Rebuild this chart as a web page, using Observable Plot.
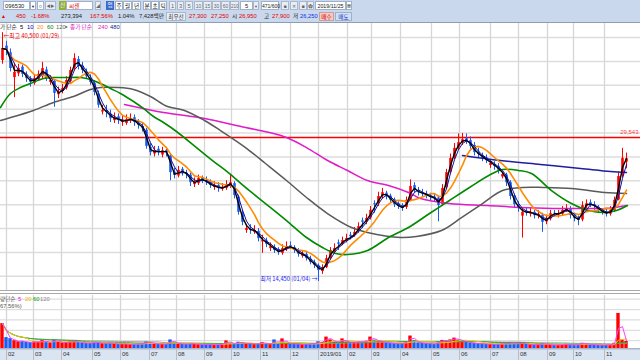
<!DOCTYPE html>
<html><head><meta charset="utf-8">
<script src="https://cdn.jsdelivr.net/npm/d3@7"></script>
<script src="https://cdn.jsdelivr.net/npm/@observablehq/plot@0.6"></script>
<style>
body{margin:0;width:640px;height:360px;overflow:hidden;background:#fff;position:relative;font-family:"Liberation Sans","Noto Sans CJK KR",sans-serif}
.t{position:absolute;font-size:5.8px;line-height:9px;height:9px;white-space:nowrap;color:#222;box-sizing:border-box;font-family:"Liberation Sans","Noto Sans CJK KR",sans-serif}
.k{font-family:"Noto Sans CJK KR",sans-serif;font-size:5.6px}
.bx{background:#fff;border:1px solid #9fb1c9;text-align:center}
.gb{background:#e9eef6;border:1px solid #aab8cc;text-align:center;color:#666}
.pane{position:absolute;left:0}
.lg{position:absolute;font-size:5.8px;line-height:8px;white-space:nowrap;font-family:"Liberation Sans","Noto Sans CJK KR",sans-serif}
.lg span{position:absolute;top:0}
</style></head><body>
<div style="position:absolute;left:0;top:0;width:640px;height:22px;background:#c9d8ec;border-bottom:1px solid #8d9db4"></div>
<div class="t bx" style="left:3px;top:1px;width:27px;text-align:left;padding-left:1px">096530</div>
<div class="t bx" style="left:30px;top:1px;width:6px;font-size:4px">▼</div>
<div class="t bx" style="left:37px;top:1px;width:7px">○</div>
<div class="t gb" style="left:45px;top:1px;width:11px;font-size:4px">◀▶</div>
<div class="t k" style="left:59px;top:1px;width:7px;background:#8fae3a;color:#fff;text-align:center">신</div>
<div class="t bx k" style="left:66px;top:1px;width:27px;text-align:left;color:#e01010;padding-left:2px">씨젠</div>
<div class="t gb" style="left:95px;top:1px;width:6px;font-size:4px">◢</div>
<div class="t k" style="left:106px;top:1px;width:8px;background:#3b6ccb;color:#fff;text-align:center">업</div>
<div class="t bx k" style="left:115px;top:1px;width:8px">주</div>
<div class="t bx k" style="left:123px;top:1px;width:9px">월</div>
<div class="t bx k" style="left:132px;top:1px;width:9px">년</div>
<div class="t bx k" style="left:143px;top:1px;width:8px">분</div>
<div class="t bx k" style="left:151px;top:1px;width:8px">초</div>
<div class="t bx k" style="left:159px;top:1px;width:8px">틱</div>
<div class="t gb" style="left:169px;top:1px;width:7px">1</div>
<div class="t gb" style="left:177px;top:1px;width:7px">3</div>
<div class="t gb" style="left:185px;top:1px;width:8px">5</div>
<div class="t gb" style="left:194px;top:1px;width:9px;font-size:5px">10</div>
<div class="t gb" style="left:203px;top:1px;width:9px;font-size:5px">15</div>
<div class="t gb" style="left:212px;top:1px;width:9px;font-size:5px">30</div>
<div class="t gb" style="left:221px;top:1px;width:9px;font-size:5px">60</div>
<div class="t gb" style="left:230px;top:1px;width:9px;font-size:4.5px">210</div>
<div class="t bx" style="left:240px;top:1px;width:13px">5</div>
<div class="t gb" style="left:253px;top:1px;width:6px;font-size:4px">▼</div>
<div class="t bx" style="left:261px;top:1px;width:18px;font-size:5px">471/600</div>
<div class="t gb" style="left:281px;top:1px;width:8px;font-size:5px">■</div>
<div class="t gb" style="left:290px;top:1px;width:8px;font-size:5px">✕</div>
<div class="t gb" style="left:299px;top:1px;width:8px;font-size:5px">■</div>
<div class="t gb" style="left:307px;top:1px;width:7px;font-size:5px">✿</div>
<div class="t bx" style="left:315px;top:1px;width:31px;font-size:5.3px">2019/11/25</div>
<div class="t bx" style="left:346px;top:1px;width:6px;font-size:4px">▦</div>

<div class="t" style="left:1px;top:12px;color:#e00000;font-size:5px">▲</div>
<div class="t" style="left:16px;top:12px;color:#e00000">450</div>
<div class="t" style="left:31px;top:12px;color:#e00000">-1.68%</div>
<div class="t" style="left:61px;top:12px">273,394</div>
<div class="t" style="left:90px;top:12px;color:#e00000">167.56%</div>
<div class="t" style="left:118px;top:12px">1.04%</div>
<div class="t" style="left:139px;top:12px">7,428<span class="k">백만</span></div>
<div class="t gb k" style="left:166px;top:12px;width:20px;color:#333">최우선</div>
<div class="t" style="left:189px;top:12px;color:#e00000">27,300</div>
<div class="t" style="left:211px;top:12px;color:#e00000">27,250</div>
<div class="t k" style="left:232px;top:12px">시</div>
<div class="t" style="left:239px;top:12px;color:#e00000">26,950</div>
<div class="t k" style="left:264px;top:12px">고</div>
<div class="t" style="left:272px;top:12px;color:#e00000">27,900</div>
<div class="t k" style="left:293px;top:12px">저</div>
<div class="t" style="left:300px;top:12px;color:#1030e0">26,250</div>
<div class="t k" style="left:319px;top:12px;width:15px;background:#f5c8c2;border:1px solid #c9a0a0;color:#d00000;text-align:center">매수</div>
<div class="t k" style="left:335px;top:12px;width:17px;background:#cfe0f5;border:1px solid #9fb1c9;color:#1030c0;text-align:center">매도</div>

<div id="main" class="pane" style="top:23px"></div>
<div class="pane" style="top:290px;width:640px;height:1px;background:#a9a9a9"></div>
<div class="pane" style="top:293px;width:640px;height:1px;background:#a9a9a9"></div>
<div id="vol" class="pane" style="top:295px"></div>
<div id="axis" class="pane" style="top:348px"></div>

<div class="lg" style="left:0;top:23px;width:130px;height:8px">
<span style="left:0;color:#333" class="k">가 단순</span>
<span style="left:20px;color:#000">5</span>
<span style="left:27px;color:#0000c8">10</span>
<span style="left:37px;color:#ff8c00">20</span>
<span style="left:47px;color:#008000">60</span>
<span style="left:56px;color:#666">120</span>
<span style="left:65px;color:#777;font-size:4px">■</span>
<span style="left:70px;color:#e020c0" class="k">종가 단순</span>
<span style="left:98px;color:#e020c0">240</span>
<span style="left:110px;color:#202090">480</span>
</div>
<div class="lg" style="left:0;top:295px;width:60px;height:8px">
<span style="left:0;color:#666" class="k">량단순</span>
<span style="left:18px;color:#ff00ff">5</span>
<span style="left:25px;color:#e8b800">20</span>
<span style="left:33px;color:#00a000">60</span>
<span style="left:40px;color:#888">120</span>
</div>
<div class="lg" style="left:0;top:302px;color:#555">67.56%)</div>

<script>
// ---- price data (thousand won), one candle per ~3 trading days ----
const closes = [38.85,38.65,36.75,36.35,36.75,36.15,35.70,35.30,35.70,36.15,
36.75,35.70,35.50,34.15,34.25,34.65,35.50,36.55,37.80,36.95,
36.55,35.90,35.30,34.25,32.90,32.35,32.15,31.50,31.60,31.30,
31.20,31.40,31.50,31.10,30.80,30.45,28.60,27.95,28.15,27.95,
28.15,27.95,25.85,25.55,26.10,25.85,25.65,24.80,24.80,25.25,
25.05,24.80,24.50,24.40,24.20,24.30,24.60,24.80,23.45,21.70,
20.65,20.00,19.80,19.80,18.95,18.75,18.35,18.10,17.70,17.50,
17.90,18.10,18.10,17.70,17.30,17.30,16.85,16.45,16.15,15.60,
15.80,16.85,17.70,17.90,18.35,18.75,18.95,19.15,19.60,20.20,
20.65,21.05,21.90,22.50,23.35,23.75,23.35,22.95,22.50,22.30,
22.10,22.95,24.40,24.00,23.75,23.65,23.45,23.25,23.15,22.40,
24.20,25.85,27.35,28.40,29.00,29.30,29.20,28.60,27.95,27.75,
27.35,27.10,26.80,26.50,26.10,25.65,24.80,23.35,22.50,22.10,
21.70,21.70,21.70,21.35,21.45,20.65,21.05,21.55,21.55,21.55,
21.90,22.10,21.35,21.05,20.85,22.40,22.60,22.50,22.30,21.90,
21.70,21.55,21.90,22.95,25.45,27.35,27.30];
const opens = [37.60,39.10,38.40,35.80,36.20,36.90,36.00,35.60,35.20,35.60,
35.90,36.60,35.30,35.40,34.00,34.40,34.70,35.40,36.80,37.70,
37.00,36.40,35.70,35.20,34.10,32.20,32.30,32.00,31.30,31.70,
31.10,31.00,31.30,31.60,31.00,30.70,30.30,28.50,27.80,28.30,
27.70,28.20,27.60,25.90,25.50,26.20,25.80,25.60,24.60,24.70,
25.30,25.00,24.90,24.30,24.50,24.10,24.20,24.40,24.70,23.30,
21.60,19.80,19.90,19.60,19.70,18.60,18.70,17.90,18.00,17.80,
17.40,17.80,18.20,18.00,17.60,17.10,17.30,16.80,16.40,16.10,
15.50,15.90,16.90,17.60,18.50,18.40,18.80,19.30,19.30,19.70,
20.80,20.70,21.10,22.60,22.60,23.40,23.70,23.40,23.00,22.60,
22.40,22.20,22.90,24.50,24.00,23.70,23.60,23.40,23.30,23.20,
22.50,24.30,25.90,27.40,28.50,29.00,29.40,29.20,28.70,28.00,
27.60,27.40,26.60,26.70,26.50,25.40,25.60,24.80,23.40,22.50,
21.30,21.80,21.50,21.70,21.30,21.40,20.70,21.00,21.60,21.40,
21.50,21.90,22.10,21.40,21.00,20.90,22.30,22.70,22.50,22.20,
21.90,21.70,21.50,21.90,23.00,25.50,26.95];
const highs = [40.50,39.60,38.80,37.30,37.20,37.10,36.40,35.90,36.10,36.50,
37.40,36.90,36.00,35.60,34.80,35.10,35.90,36.90,38.30,38.00,
37.40,36.70,36.10,35.50,34.40,32.90,32.90,32.40,32.10,32.00,
31.80,31.90,32.00,31.90,31.40,31.10,30.50,28.90,28.60,28.60,
28.50,28.50,27.80,26.30,26.50,26.40,26.10,25.80,25.30,25.60,
25.50,25.40,25.10,24.90,24.80,24.70,25.00,25.60,24.90,23.50,
21.90,20.40,20.40,20.30,20.00,19.30,19.00,18.50,18.30,18.00,
18.30,18.60,18.60,18.20,17.90,17.70,17.50,17.10,16.70,16.30,
16.20,17.20,18.00,18.40,18.80,19.10,19.40,19.60,20.10,20.60,
21.10,21.50,22.30,22.90,23.80,24.20,23.90,23.60,23.20,22.80,
22.60,23.30,25.10,24.80,24.30,24.10,23.90,23.70,23.60,23.40,
24.60,26.20,27.80,28.90,29.90,29.95,29.90,29.60,29.00,28.40,
27.90,27.70,27.20,27.00,26.80,25.90,25.80,25.00,23.60,22.80,
22.20,22.20,22.10,21.90,21.90,21.60,21.40,21.90,21.90,21.90,
22.30,22.50,22.30,21.60,21.30,22.80,23.00,23.00,22.80,22.40,
22.10,22.00,22.30,23.30,25.90,28.40,27.90];
const lows = [37.20,38.10,36.40,33.70,35.90,35.80,35.30,34.80,35.00,35.40,
35.60,35.40,35.00,32.70,33.60,34.10,34.50,35.20,36.50,36.60,
36.20,35.60,35.00,33.90,32.60,31.90,31.60,31.10,31.00,30.90,
30.70,30.80,31.00,30.70,30.40,30.10,28.30,27.60,27.50,27.60,
27.40,27.50,25.00,25.20,25.30,25.50,25.20,24.40,24.30,24.50,
24.70,24.50,24.20,24.00,23.80,23.90,24.00,24.20,23.10,21.40,
20.30,19.50,19.40,19.40,18.60,17.40,18.00,17.60,17.40,17.20,
17.20,17.60,17.80,17.40,17.00,16.90,16.60,16.20,15.80,14.45,
15.20,15.80,16.70,17.40,17.70,18.20,18.50,18.80,19.10,19.50,
20.00,20.40,20.90,21.60,22.30,23.10,23.00,22.60,22.20,22.00,
21.80,22.00,22.80,23.70,23.40,23.30,23.10,22.90,22.80,20.70,
22.30,24.10,25.70,27.20,28.20,28.70,28.80,28.30,27.60,27.40,
27.00,26.80,26.30,26.10,25.70,25.20,24.40,23.00,22.10,21.70,
19.00,21.30,21.20,21.00,21.00,19.60,20.40,20.80,21.20,21.10,
21.30,21.70,21.00,20.70,20.30,20.70,22.00,22.20,21.90,21.60,
21.40,21.20,21.30,21.70,22.90,25.30,26.25];
// volume, thousand shares
const volumes = [960,420,380,300,260,280,240,230,260,250,
300,260,220,330,250,220,240,260,280,240,
220,200,210,240,230,190,200,210,180,170,
180,170,160,170,180,190,260,220,180,170,
170,160,330,220,180,170,160,190,170,160,
150,160,150,140,150,170,290,200,190,240,
220,190,180,170,190,230,180,170,330,180,
370,200,170,180,160,150,170,180,190,260,
230,440,330,260,240,370,250,230,240,260,
250,280,440,320,290,260,220,200,190,180,
190,260,480,300,220,200,190,180,170,260,
310,290,330,400,320,300,250,220,200,190,
180,170,160,160,170,180,190,220,200,180,
210,160,150,140,150,200,150,140,130,140,
150,160,150,140,160,200,170,150,140,130,
130,140,150,200,1350,330,270];

// long moving averages (position in candle units, value)
const ma60Pos = [0,2.5,5,7.5,10.75,13.25,16.75,20,22.5,25,27.5,30,33.25,35.75,38.25,40.75,44,49,53,57.25,61.25,66.25,71.5,76.5,80.5,83.75,86.75,91.75,97,102,107.25,112.25,117.25,122.5,125.5,129.5,132.75,137.75,142.75,147,151,154,156.75];
const ma60Val = [32.67,34.14,34.76,35.18,35.71,35.81,35.81,35.81,35.60,35.18,34.66,34.14,33.30,32.57,31.73,31.10,30.16,28.48,27.12,25.76,24.30,22.62,20.84,19.06,18.01,17.39,17.28,17.70,19.06,20.11,21.57,22.94,24.30,25.66,26.18,26.08,25.76,23.98,22.62,21.89,21.68,21.89,22.41];
const ma120Pos = [0,1.75,8.25,13.25,18.25,22.5,25,29.25,33.25,37.5,41.75,46,51,55,61.25,66.25,71.5,76.5,81.75,87.75,91.75,100,104,110.25,115.25,120.5,125.5,130.5,135.75,142.75,151,156.5];
const ma120Val = [31.31,31.52,32.36,33.20,33.82,34.56,34.77,34.77,34.56,33.82,32.78,32.36,31.31,30.26,28.48,26.81,25.03,23.25,21.57,20.11,19.59,19.06,19.17,19.79,21.15,22.62,23.98,24.30,24.30,24.19,23.77,23.67];
const ma240Pos = [31,40.75,51,61.25,67.25,71.5,76.5,81.75,86.75,91.75,97,102,105,112.25,121.75,130,138.25,146.75,151.75,156.5];
const ma240Val = [32.99,32.15,31.52,30.58,30.05,29.53,28.48,27.12,26.08,25.03,24.51,23.77,23.14,22.62,22.41,22.20,22.10,22.10,22.10,22.41];
const ma480Pos = [115.5,125,135,145,152.5,156.5];
const ma480Val = [27.65,27.12,26.70,26.29,25.97,25.87];

// axis: month starts (candle units) and labels
const monthPos = [1.5,8.25,15.25,23,30,37.25,44,51,57.75,65,72.5,79.5,86.75,92.75,100,107.75,114.75,122.5,129.5,136.75,143.25,151];
const monthLabels = ["02","03","04","05","06","07","08","09","10","11","12","2019/01","02","03","04","05","06","07","08","09","10","11"];
const priceGrid = [15,17.5,20,22.5,25,27.5,30,32.5,35,37.5,40];
const volGrid = [300,700,1100,1500,1900];
const refLine = [29.543];
const refLabel = ["29,543"];
const highNote = {i:0, v:40.5, text:"←최고 40,500 (01/29)"};
const lowNote = {i:79, v:14.45, text:"최저 14,450 (01/04) →"};

const RED = "#ff0000", BLUE = "#1d5cf2";
const candles = closes.map((c,i)=>({x:i+0.5, i, o:opens[i], h:highs[i], l:lows[i], c, col: c>=opens[i]?RED:BLUE}));
const vols = volumes.map((v,i)=>({x:i+0.5, i, v, col: candles[i].col}));
const KR = "Noto Sans CJK KR";

const ma = (pos, val, color, w) => Plot.line(val, {x:(d,i)=>pos[i], y:d=>d, stroke:color, strokeWidth:w, curve:"catmull-rom"});

const main = Plot.plot({
  width:640, height:267, margin:0,
  x:{domain:[0,160], axis:null},
  y:{domain:[13.513,41.466], axis:null},
  color:{type:"identity"},
  style:{background:"transparent", overflow:"visible"},
  marks:[
    Plot.ruleY(priceGrid, {stroke:"#dddddd", strokeWidth:1.5}),
    Plot.ruleX(monthPos, {stroke:"#d6d6d6", strokeWidth:1.3}),
    Plot.ruleY(refLine, {stroke:"#ff0000", strokeWidth:1.5}),
    Plot.text(refLine, {x:160, y:d=>d, text:(d,i)=>refLabel[i], textAnchor:"end", dx:-2, dy:-5, fill:"#ff4040", fontSize:6, fontFamily:"Liberation Sans"}),
    Plot.ruleX(candles, {x:"x", y1:"l", y2:"h", stroke:"col", strokeWidth:1}),
    Plot.ruleX(candles, {x:"x", y1:"o", y2:"c", stroke:"col", strokeWidth:2.6}),
    ma(ma480Pos, ma480Val, "#1e1e9e", 1.5),
    ma(ma240Pos, ma240Val, "#e01cc8", 1.5),
    ma(ma120Pos, ma120Val, "#5a5a5a", 1.5),
    ma(ma60Pos, ma60Val, "#008a00", 1.6),
    Plot.line(candles, Plot.windowY({k:7, anchor:"end", strict:false}, {x:"x", y:"c", stroke:"#ff8c00", strokeWidth:1.6})),
    Plot.line(candles, Plot.windowY({k:3, anchor:"end", strict:false}, {x:"x", y:"c", stroke:"#1010a8", strokeWidth:1})),
    Plot.line(candles, Plot.windowY({k:2, anchor:"end", strict:false}, {x:"x", y:"c", stroke:"#000000", strokeWidth:1.4})),
    Plot.text([highNote], {x:d=>d.i+0.5, y:"v", text:"text", textAnchor:"start", dx:1, dy:3, fill:"#ee0000", fontSize:5.8, fontFamily:KR}),
    Plot.text([lowNote], {x:d=>d.i+0.5, y:"v", text:"text", textAnchor:"end", dx:-1, dy:-2, fill:"#1a1aee", fontSize:5.8, fontFamily:KR})
  ]
});
document.getElementById("main").appendChild(main);

const vol = Plot.plot({
  width:640, height:53, margin:0,
  x:{domain:[0,160], axis:null},
  y:{domain:[0,2040], axis:null},
  color:{type:"identity"},
  style:{background:"transparent"},
  marks:[
    Plot.ruleY(volGrid, {stroke:"#dddddd", strokeWidth:1.3}),
    Plot.ruleX(monthPos, {stroke:"#d6d6d6", strokeWidth:1.3}),
    Plot.rect(vols, {x1:"i", x2:d=>d.i+1, y1:0, y2:"v", fill:"col", insetLeft:0.3, insetRight:0.3}),
    Plot.line(vols, Plot.windowY({k:40, anchor:"end", strict:false}, {x:"x", y:"v", stroke:"#a0a0a0", strokeWidth:1})),
    Plot.line(vols, Plot.windowY({k:20, anchor:"end", strict:false}, {x:"x", y:"v", stroke:"#22b022", strokeWidth:1})),
    Plot.line(vols, Plot.windowY({k:7, anchor:"end", strict:false}, {x:"x", y:"v", stroke:"#f0c800", strokeWidth:1})),
    Plot.line(vols, Plot.windowY({k:2, anchor:"end", strict:false}, {x:"x", y:"v", stroke:"#ff40ff", strokeWidth:1}))
  ]
});
document.getElementById("vol").appendChild(vol);

const axis = Plot.plot({
  width:640, height:12, margin:0,
  x:{domain:[0,160], axis:null},
  y:{domain:[0,1], axis:null},
  style:{background:"#dbe5f1"},
  marks:[
    Plot.ruleY([1], {stroke:"#a8b5c8", strokeWidth:2}),
    Plot.ruleX(monthPos, {stroke:"#b3bfcf", strokeWidth:1}),
    Plot.text(monthPos, {x:d=>d, y:0.5, text:(d,i)=>monthLabels[i], textAnchor:"start", dx:1.5, fill:"#333", fontSize:6, fontFamily:"Liberation Sans"})
  ]
});
document.getElementById("axis").appendChild(axis);
</script>
</body></html>
